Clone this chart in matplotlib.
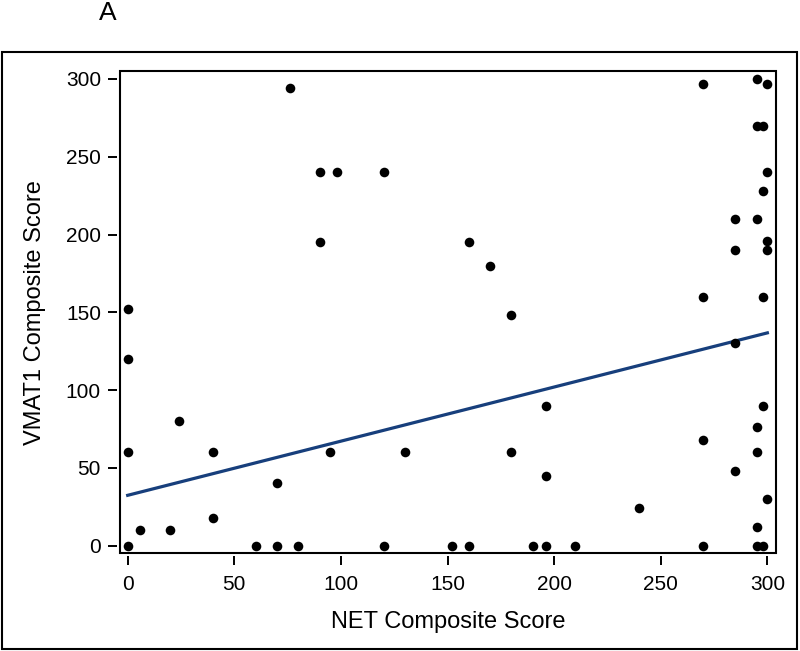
import numpy as np
import matplotlib
matplotlib.use("Agg")
import matplotlib.pyplot as plt
from matplotlib.patches import Rectangle

plt.rcParams['font.family'] = ['Liberation Sans', 'DejaVu Sans']

# NET composite score (x) and VMAT1 composite score (y)
net = [0, 0, 0, 0, 6, 20, 24, 40, 40, 60, 70, 70, 76, 80, 90, 90, 95, 98,
       120, 120, 130, 152, 160, 160, 170, 180, 180, 190, 196, 196, 196, 210,
       240, 270, 270, 270, 270, 285, 285, 285, 285, 295, 295, 295, 295, 295,
       295, 295, 298, 298, 298, 298, 298, 300, 300, 300, 300, 300]
vmat1 = [152, 120, 60, 0, 10, 10, 80, 60, 18, 0, 40, 0, 294, 0, 240, 195, 60, 240,
         240, 0, 60, 0, 195, 0, 180, 148, 60, 0, 90, 45, 0, 0,
         24, 297, 160, 68, 0, 210, 190, 130, 48, 300, 270, 210, 76, 60,
         12, 0, 270, 228, 160, 90, 0, 297, 240, 196, 190, 30]

# regression line as shown in the figure (intercept, slope)
fit_intercept = 32.4
fit_slope = 0.348

xticks = [0, 50, 100, 150, 200, 250, 300]
yticks = [0, 50, 100, 150, 200, 250, 300]

fig = plt.figure(figsize=(8, 6.51), dpi=100)
ax = fig.add_axes([0.15, 0.15, 0.8196, 0.7409])

ax.scatter(net, vmat1, s=48, color='black', zorder=3, linewidths=0)

xs = np.array([min(net), max(net)])
ax.plot(xs, fit_intercept + fit_slope * xs, color='#173f7c', lw=2.3, zorder=2)

ax.set_xlim(-3.6, 303.9)
ax.set_ylim(-4.9, 305.1)
ax.set_xticks(xticks)
ax.set_yticks(yticks)

# frame drawn as a box, ticks detached a few pixels from it
for s in ax.spines.values():
    s.set_visible(False)
ax.spines['left'].set_position(('outward', 2.2))
ax.spines['bottom'].set_position(('outward', 2.2))
ax.add_patch(Rectangle((0, 0), 1, 1, transform=ax.transAxes, fill=False,
                       lw=1.5, ec='black', zorder=4, clip_on=False))

ax.tick_params(direction='out', length=6.5, width=1.4, labelsize=15, pad=5)
ax.tick_params(axis='x', pad=7)
ax.set_xlabel('NET Composite Score', fontsize=17, labelpad=12)
ax.set_ylabel('VMAT1 Composite Score', fontsize=17, labelpad=14)

fig.add_artist(Rectangle((2 / 800, 2 / 651), 795 / 800, 597 / 651, transform=fig.transFigure,
                         fill=False, lw=1.5, ec='black'))
fig.text(108 / 800, 1 - 13 / 651, 'A', fontsize=19, ha='center', va='center')

fig.savefig('out.png', dpi=100)
